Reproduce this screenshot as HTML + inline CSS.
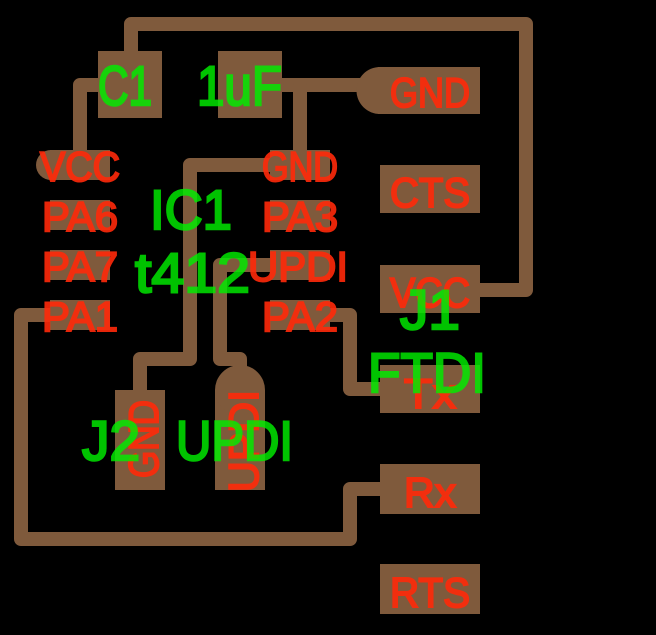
<!DOCTYPE html>
<html><head><meta charset="utf-8"><style>html,body{margin:0;padding:0;background:#000}svg{display:block}</style></head><body>
<svg width="656" height="635" viewBox="0 0 656 635" xmlns="http://www.w3.org/2000/svg">
<rect width="656" height="635" fill="#000"/>
<g fill="none" stroke="#7f5a3c" stroke-width="14" stroke-linejoin="round" stroke-linecap="round">
<polyline points="131,60 131,24 526,24 526,290 470,290"/>
<polyline points="100,85 80,85 80,165"/>
<polyline points="280,85 370,85"/>
<polyline points="300,85 300,165"/>
<polyline points="275,165 190,165 190,359 140,359 140,395"/>
<polyline points="275,265 220,265 220,359 240,359 240,372"/>
<polyline points="325,315 350,315 350,389 385,389"/>
<polyline points="60,315 21,315 21,539 350,539 350,489 385,489"/>
</g>
<g fill="#7f5a3c">
<rect x="98" y="51" width="64" height="67"/>
<rect x="218" y="51" width="64" height="67"/>
<rect x="50" y="150" width="60" height="30"/><circle cx="51" cy="165" r="15"/>
<rect x="50" y="200" width="60" height="30"/>
<rect x="50" y="250" width="60" height="30"/>
<rect x="50" y="300" width="60" height="30"/>
<rect x="270" y="150" width="60" height="30"/>
<rect x="270" y="200" width="60" height="30"/>
<rect x="270" y="250" width="60" height="30"/>
<rect x="270" y="300" width="60" height="30"/>
<rect x="380" y="67" width="100" height="47"/><rect x="378" y="67" width="10" height="47"/><circle cx="380" cy="90.5" r="23.5"/>
<rect x="380" y="165" width="100" height="48"/>
<rect x="380" y="265" width="100" height="48"/>
<rect x="380" y="365" width="100" height="48"/>
<rect x="380" y="464" width="100" height="50"/>
<rect x="380" y="564" width="100" height="50"/>
<rect x="115" y="390" width="50" height="100"/>
<rect x="215" y="390" width="50" height="100"/><circle cx="240" cy="390" r="25"/>
</g>
<g font-family="Liberation Sans, sans-serif" font-size="42" fill="#ff2a0a" stroke="#ff2a0a" stroke-width="2" opacity="0.9">
<text x="40" y="181" textLength="80" lengthAdjust="spacingAndGlyphs">VCC</text>
<text x="42" y="231" textLength="76" lengthAdjust="spacingAndGlyphs">PA6</text>
<text x="42" y="281" textLength="76" lengthAdjust="spacingAndGlyphs">PA7</text>
<text x="42" y="331" textLength="76" lengthAdjust="spacingAndGlyphs">PA1</text>
<text x="262" y="181" textLength="76" lengthAdjust="spacingAndGlyphs">GND</text>
<text x="262" y="231" textLength="76" lengthAdjust="spacingAndGlyphs">PA3</text>
<text x="248" y="281" textLength="100" lengthAdjust="spacingAndGlyphs">UPDI</text>
<text x="262" y="331" textLength="76" lengthAdjust="spacingAndGlyphs">PA2</text>
<text x="390" y="107" textLength="80" lengthAdjust="spacingAndGlyphs">GND</text>
<text x="390" y="207" textLength="80" lengthAdjust="spacingAndGlyphs">CTS</text>
<text x="390" y="307" textLength="80" lengthAdjust="spacingAndGlyphs">VCC</text>
<text x="404" y="408" textLength="52" lengthAdjust="spacingAndGlyphs">Tx</text>
<text x="404" y="507" textLength="52" lengthAdjust="spacingAndGlyphs">Rx</text>
<text x="390" y="607" textLength="80" lengthAdjust="spacingAndGlyphs">RTS</text>
<text transform="translate(158,478) rotate(-90)" x="0" y="0" textLength="78" lengthAdjust="spacingAndGlyphs">GND</text>
<text transform="translate(258,492) rotate(-90)" x="0" y="0" textLength="102" lengthAdjust="spacingAndGlyphs">UPDI</text>
</g>
<g font-family="Liberation Sans, sans-serif" font-size="56" fill="#00ee00" stroke="#00ee00" stroke-width="2.5" opacity="0.82">
<text x="98" y="105" textLength="54" lengthAdjust="spacingAndGlyphs">C1</text>
<text x="197" y="105" textLength="85" lengthAdjust="spacingAndGlyphs">1uF</text>
<text x="150" y="229" textLength="82" lengthAdjust="spacingAndGlyphs">IC1</text>
<text x="135" y="292" textLength="115" lengthAdjust="spacingAndGlyphs">t412</text>
<text x="400" y="329" textLength="60" lengthAdjust="spacingAndGlyphs">J1</text>
<text x="368" y="392" textLength="118" lengthAdjust="spacingAndGlyphs">FTDI</text>
<text x="82" y="460" textLength="58" lengthAdjust="spacingAndGlyphs">J2</text>
<text x="176" y="460" textLength="117" lengthAdjust="spacingAndGlyphs">UPDI</text>
</g>
</svg>
</body></html>
